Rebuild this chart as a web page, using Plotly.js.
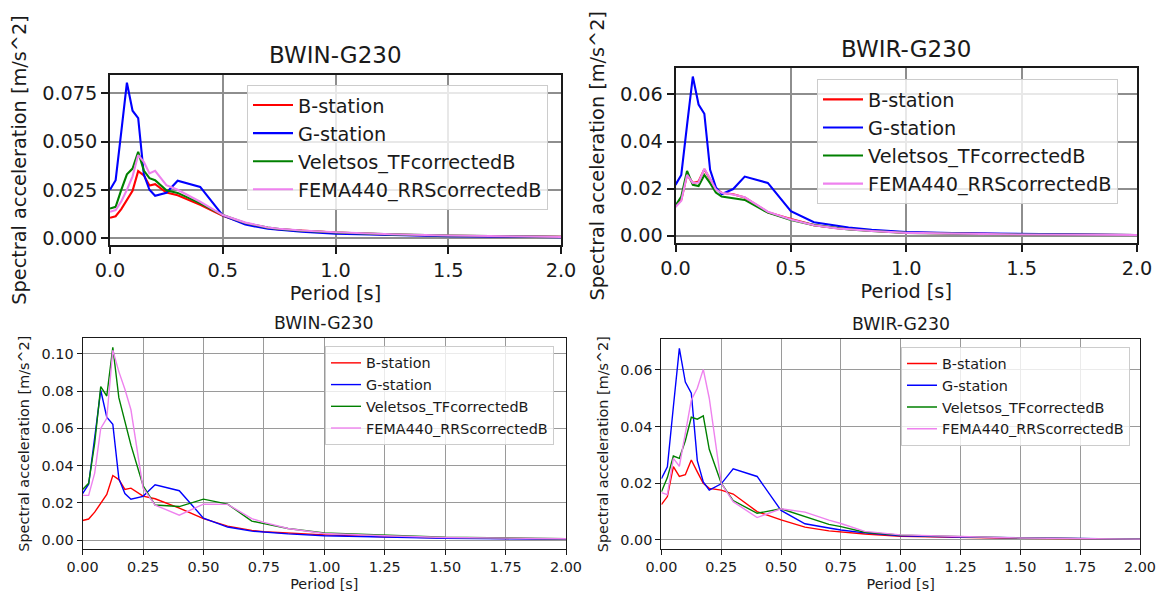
<!DOCTYPE html>
<html>
<head>
<meta charset="utf-8">
<script src="https://cdn.plot.ly/plotly-3.0.1.min.js"></script>
<style>
  html, body { margin: 0; padding: 0; background: #ffffff; }
  #chart { width: 1161px; height: 594px; }
</style>
</head>
<body>
<div id="chart"></div>
<script>
// ---------------- DATA ----------------
const periods = [0.0, 0.025, 0.05, 0.075, 0.1, 0.125, 0.15, 0.175, 0.2, 0.25, 0.3, 0.4, 0.5, 0.6, 0.7, 0.75, 0.85, 1.0, 1.25, 1.5, 2.0];

const seriesNames = ['B-station', 'G-station', 'Veletsos_TFcorrectedB', 'FEMA440_RRScorrectedB'];

// BWIN-G230
const bwinB = [0.0105, 0.0113, 0.0150, 0.0197, 0.0245, 0.0347, 0.0325, 0.0272, 0.0279, 0.0236, 0.0222, 0.0172, 0.0115, 0.0075, 0.0052, 0.0045, 0.0037, 0.0028, 0.0018, 0.0012, 0.0006];
const bwinG = [0.0250, 0.0300, 0.0550, 0.0805, 0.0660, 0.0622, 0.0330, 0.0250, 0.0219, 0.0235, 0.0297, 0.0265, 0.0118, 0.0070, 0.0048, 0.0043, 0.0033, 0.0023, 0.0015, 0.0010, 0.0005];
const bwinVeletsosTop = [0.0153, 0.0162, 0.0250, 0.0330, 0.0360, 0.0447, 0.0350, 0.0310, 0.0300, 0.0248, 0.0234, 0.0180, 0.0119, 0.0078, 0.0054, 0.0047, 0.0038, 0.0029, 0.0019, 0.0013, 0.0006];
const bwinFemaTop = [0.0136, 0.0145, 0.0190, 0.0250, 0.0320, 0.0430, 0.0395, 0.0335, 0.0348, 0.0274, 0.0250, 0.0188, 0.0119, 0.0080, 0.0055, 0.0048, 0.0039, 0.0030, 0.0020, 0.0013, 0.0006];
const bwinVeletsosBottom = [0.0272, 0.0305, 0.0520, 0.0824, 0.0774, 0.1036, 0.0765, 0.0635, 0.0510, 0.0293, 0.0188, 0.0180, 0.0220, 0.0193, 0.0102, 0.0088, 0.0062, 0.0038, 0.0025, 0.0015, 0.0007];
const bwinFemaBottom = [0.0240, 0.0240, 0.0360, 0.0600, 0.0654, 0.1020, 0.0905, 0.0810, 0.0700, 0.0280, 0.0188, 0.0134, 0.0193, 0.0192, 0.0115, 0.0095, 0.0062, 0.0035, 0.0023, 0.0014, 0.0007];

// BWIR-G230
const bwirB = [0.0125, 0.0153, 0.0259, 0.0224, 0.0230, 0.0282, 0.0240, 0.0200, 0.0182, 0.0176, 0.0162, 0.0100, 0.0071, 0.0045, 0.0032, 0.0028, 0.0021, 0.0013, 0.0009, 0.0006, 0.0003];
const bwirG = [0.0216, 0.0258, 0.0470, 0.0676, 0.0557, 0.0518, 0.0280, 0.0205, 0.0176, 0.0198, 0.0251, 0.0224, 0.0104, 0.0057, 0.0042, 0.0035, 0.0025, 0.0015, 0.0010, 0.0007, 0.0003];
const bwirVeletsosTop = [0.0128, 0.0166, 0.0275, 0.0216, 0.0211, 0.0258, 0.0223, 0.0183, 0.0166, 0.0159, 0.0152, 0.0098, 0.0067, 0.0045, 0.0032, 0.0027, 0.0020, 0.0012, 0.0008, 0.0005, 0.0003];
const bwirFemaTop = [0.0122, 0.0148, 0.0258, 0.0224, 0.0226, 0.0284, 0.0242, 0.0196, 0.0182, 0.0175, 0.0163, 0.0102, 0.0069, 0.0044, 0.0031, 0.0027, 0.0020, 0.0012, 0.0008, 0.0005, 0.0003];
const bwirVeletsosBottom = [0.0170, 0.0220, 0.0296, 0.0288, 0.0350, 0.0433, 0.0426, 0.0438, 0.0320, 0.0200, 0.0139, 0.0094, 0.0110, 0.0082, 0.0055, 0.0047, 0.0027, 0.0017, 0.0011, 0.0007, 0.0003];
const bwirFemaBottom = [0.0167, 0.0160, 0.0288, 0.0260, 0.0376, 0.0494, 0.0535, 0.0602, 0.0500, 0.0200, 0.0135, 0.0079, 0.0110, 0.0098, 0.0070, 0.0058, 0.0030, 0.0018, 0.0012, 0.0007, 0.0003];

const panelTitles = ['BWIN-G230', 'BWIR-G230', 'BWIN-G230', 'BWIR-G230'];
const xTitle = 'Period [s]';
const yTitle = 'Spectral acceleration [m/s^2]';

// ---------------- STYLE ----------------
const colors = ['#ff0000', '#0000ff', '#008000', '#ee82ee'];
const FONT = 'DejaVu Sans, Verdana, sans-serif';
const W = 1161, H = 594;
const px = v => v / W;
const py = v => 1 - v / H;

const panels = [
  { series: [bwinB, bwinG, bwinVeletsosTop, bwinFemaTop], xa: 'x', ya: 'y', legend: 'legend',
    xdom: [px(110), px(561)], ydom: [py(245), py(75)], yrange: [-0.0036, 0.0845], dtickY: 0.025, fmtY: '.3f',
    dtickX: 0.5, fmtX: '.1f', big: true, title: [px(335.5), py(55)], leg: [px(247), py(85)] },
  { series: [bwirB, bwirG, bwirVeletsosTop, bwirFemaTop], xa: 'x2', ya: 'y2', legend: 'legend2',
    xdom: [px(675.5), px(1137)], ydom: [py(243), py(68.3)], yrange: [-0.0031, 0.0711], dtickY: 0.02, fmtY: '.2f',
    dtickX: 0.5, fmtX: '.1f', big: true, title: [px(906), py(49)], leg: [px(817), py(79.3)] },
  { series: [bwinB, bwinG, bwinVeletsosBottom, bwinFemaBottom], xa: 'x3', ya: 'y3', legend: 'legend3',
    xdom: [px(82.6), px(566)], ydom: [py(549), py(338.3)], yrange: [-0.0048, 0.1084], dtickY: 0.02, fmtY: '.2f',
    dtickX: 0.25, fmtX: '.2f', big: false, title: [px(324.3), py(322.5)], leg: [px(325), py(346)] },
  { series: [bwirB, bwirG, bwirVeletsosBottom, bwirFemaBottom], xa: 'x4', ya: 'y4', legend: 'legend4',
    xdom: [px(661.4), px(1140)], ydom: [py(549), py(339.3)], yrange: [-0.0032, 0.0708], dtickY: 0.02, fmtY: '.2f',
    dtickX: 0.25, fmtX: '.2f', big: false, title: [px(900.7), py(324)], leg: [px(901), py(346.7)] }
];

const traces = [];
const layout = {
  width: W, height: H,
  margin: { l: 0, r: 0, t: 0, b: 0 },
  paper_bgcolor: '#ffffff', plot_bgcolor: '#ffffff',
  font: { family: FONT, color: '#1a1a1a' },
  showlegend: true,
  annotations: []
};

panels.forEach((p, i) => {
  const fs = p.big ? 19.3 : 14.4;
  const tfs = p.big ? 23 : 17.3;
  p.series.forEach((ys, k) => {
    traces.push({
      type: 'scatter', mode: 'lines',
      x: periods, y: ys, name: seriesNames[k],
      xaxis: p.xa, yaxis: p.ya, legend: p.legend,
      legendgroup: p.legend + '_' + k,
      line: { color: colors[k], width: p.big ? 2.1 : 1.4 },
      hoverinfo: 'x+y+name'
    });
  });
  const xKey = 'xaxis' + (i === 0 ? '' : (i + 1));
  const yKey = 'yaxis' + (i === 0 ? '' : (i + 1));
  const common = {
    showline: true, mirror: true, linecolor: '#1a1a1a', linewidth: p.big ? 1.6 : 1.2,
    showgrid: true, gridcolor: p.big ? '#8e8e8e' : '#9a9a9a', gridwidth: p.big ? 1.6 : 1.4,
    zeroline: false, ticks: 'outside', ticklen: p.big ? 7 : 5, tickwidth: p.big ? 1.6 : 1.1,
    tickcolor: '#1a1a1a', tickfont: { family: FONT, size: fs, color: '#1a1a1a' }
  };
  layout[xKey] = Object.assign({}, common, {
    domain: p.xdom, anchor: p.ya, range: [0, 2],
    tick0: 0, dtick: p.dtickX, tickformat: p.fmtX,
    title: { text: xTitle, font: { family: FONT, size: fs, color: '#1a1a1a' }, standoff: p.big ? 6 : 4 }
  });
  layout[yKey] = Object.assign({}, common, {
    domain: p.ydom, anchor: p.xa, range: p.yrange,
    tick0: 0, dtick: p.dtickY, tickformat: p.fmtY,
    title: { text: yTitle, font: { family: FONT, size: fs, color: '#1a1a1a' }, standoff: p.big ? 10 : 8 }
  });
  layout[p.legend] = {
    x: p.leg[0], y: p.leg[1], xanchor: 'left', yanchor: 'top',
    bgcolor: 'rgba(255,255,255,0.8)', bordercolor: '#cccccc', borderwidth: 1,
    font: { family: FONT, size: fs, color: '#1a1a1a' },
    itemwidth: p.big ? 40 : 30, traceorder: 'normal', tracegroupgap: 0
  };
  layout.annotations.push({
    text: panelTitles[i], xref: 'paper', yref: 'paper',
    x: p.title[0], y: p.title[1], xanchor: 'center', yanchor: 'middle',
    showarrow: false, font: { family: FONT, size: tfs, color: '#1a1a1a' }
  });
});

Plotly.newPlot('chart', traces, layout, { displayModeBar: false });
</script>
</body>
</html>
